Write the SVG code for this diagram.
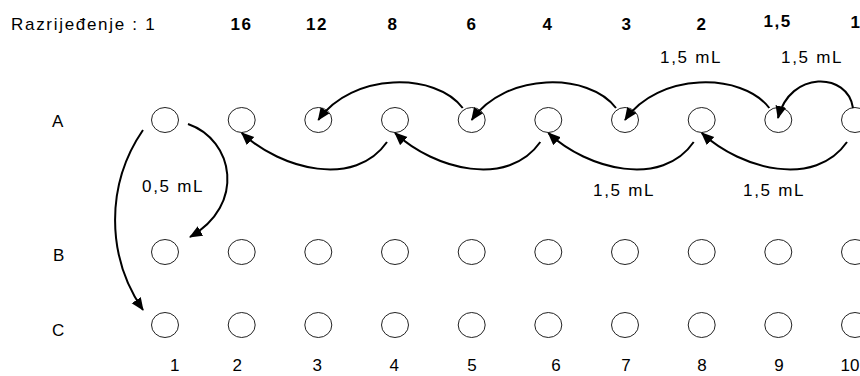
<svg xmlns="http://www.w3.org/2000/svg" width="860" height="376" viewBox="0 0 860 376">
<style>
  text { font-family: "Liberation Sans", Arial, sans-serif; font-size: 17px; fill: #000; }
  .sp { letter-spacing: 1.7px; }
  .b { font-weight: bold; letter-spacing: 1.5px; }
  .well { fill: none; stroke: #222; stroke-width: 1; }
  .arc { fill: none; stroke: #000; stroke-width: 2; marker-end: url(#ah); }
</style>
<defs>
  <marker id="ah" markerUnits="userSpaceOnUse" markerWidth="14" markerHeight="12" refX="12" refY="5.5" orient="auto">
    <path d="M0,0 L13,5.5 L0,11 z" fill="#000"/>
  </marker>
</defs>
<rect width="860" height="376" fill="#fff"/>

<g id="header">
  <text class="sp" x="11" y="30">Razrijeđenje : 1</text>
  <text class="b" x="230.5" y="30">16</text>
  <text class="b" x="306" y="30">12</text>
  <text class="b" x="387.5" y="30">8</text>
  <text class="b" x="466.5" y="30">6</text>
  <text class="b" x="542.5" y="30">4</text>
  <text class="b" x="621.5" y="30">3</text>
  <text class="b" x="696.5" y="30">2</text>
  <text class="b" x="763.5" y="27">1,5</text>
  <text x="850.5" y="28" font-weight="bold">1</text>
</g>

<g id="row-labels">
  <text x="52" y="127">A</text>
  <text x="53" y="261">B</text>
  <text x="52" y="336">C</text>
</g>

<g id="col-labels">
  <text x="170" y="371">1</text>
  <text x="232.5" y="371">2</text>
  <text x="312.5" y="371">3</text>
  <text x="389.5" y="371">4</text>
  <text x="467.3" y="371">5</text>
  <text x="551.3" y="371">6</text>
  <text x="621.3" y="371">7</text>
  <text x="697.3" y="371">8</text>
  <text x="774.3" y="371">9</text>
  <text x="840.5" y="371">10</text>
</g>

<g id="row-A">
  <g id="A1"><ellipse class="well" cx="165" cy="120" rx="13.5" ry="12.5"/></g>
  <g id="A2"><ellipse class="well" cx="241.7" cy="120" rx="13.5" ry="12.5"/></g>
  <g id="A3"><ellipse class="well" cx="318.3" cy="120" rx="13.5" ry="12.5"/></g>
  <g id="A4"><ellipse class="well" cx="395" cy="120" rx="13.5" ry="12.5"/></g>
  <g id="A5"><ellipse class="well" cx="471.7" cy="120" rx="13.5" ry="12.5"/></g>
  <g id="A6"><ellipse class="well" cx="548.3" cy="120" rx="13.5" ry="12.5"/></g>
  <g id="A7"><ellipse class="well" cx="625" cy="120" rx="13.5" ry="12.5"/></g>
  <g id="A8"><ellipse class="well" cx="701.7" cy="120" rx="13.5" ry="12.5"/></g>
  <g id="A9"><ellipse class="well" cx="778.3" cy="120" rx="13.5" ry="12.5"/></g>
  <g id="A10"><ellipse class="well" cx="855" cy="120" rx="13.5" ry="12.5"/></g>
</g>
<g id="row-B">
  <g id="B1"><ellipse class="well" cx="165" cy="252" rx="13.5" ry="12.5"/></g>
  <g id="B2"><ellipse class="well" cx="241.7" cy="252" rx="13.5" ry="12.5"/></g>
  <g id="B3"><ellipse class="well" cx="318.3" cy="252" rx="13.5" ry="12.5"/></g>
  <g id="B4"><ellipse class="well" cx="395" cy="252" rx="13.5" ry="12.5"/></g>
  <g id="B5"><ellipse class="well" cx="471.7" cy="252" rx="13.5" ry="12.5"/></g>
  <g id="B6"><ellipse class="well" cx="548.3" cy="252" rx="13.5" ry="12.5"/></g>
  <g id="B7"><ellipse class="well" cx="625" cy="252" rx="13.5" ry="12.5"/></g>
  <g id="B8"><ellipse class="well" cx="701.7" cy="252" rx="13.5" ry="12.5"/></g>
  <g id="B9"><ellipse class="well" cx="778.3" cy="252" rx="13.5" ry="12.5"/></g>
  <g id="B10"><ellipse class="well" cx="855" cy="252" rx="13.5" ry="12.5"/></g>
</g>
<g id="row-C">
  <g id="C1"><ellipse class="well" cx="165" cy="325" rx="13.5" ry="12.5"/></g>
  <g id="C2"><ellipse class="well" cx="241.7" cy="325" rx="13.5" ry="12.5"/></g>
  <g id="C3"><ellipse class="well" cx="318.3" cy="325" rx="13.5" ry="12.5"/></g>
  <g id="C4"><ellipse class="well" cx="395" cy="325" rx="13.5" ry="12.5"/></g>
  <g id="C5"><ellipse class="well" cx="471.7" cy="325" rx="13.5" ry="12.5"/></g>
  <g id="C6"><ellipse class="well" cx="548.3" cy="325" rx="13.5" ry="12.5"/></g>
  <g id="C7"><ellipse class="well" cx="625" cy="325" rx="13.5" ry="12.5"/></g>
  <g id="C8"><ellipse class="well" cx="701.7" cy="325" rx="13.5" ry="12.5"/></g>
  <g id="C9"><ellipse class="well" cx="778.3" cy="325" rx="13.5" ry="12.5"/></g>
  <g id="C10"><ellipse class="well" cx="855" cy="325" rx="13.5" ry="12.5"/></g>
</g>

<g id="connectors">
  <path class="arc" d="M188,124 C234,140 246,205 190,237"/>
  <path class="arc" d="M143,130 A159,159 0 0 0 143,310"/>
  <path class="arc" d="M853,108 C848,72 790,70 778,118"/>
  <path class="arc" d="M769.3,108 C742,72 658,72 625,120"/>
  <path class="arc" d="M616,108 C589,72 505,72 471.7,120"/>
  <path class="arc" d="M462.7,108 C436,72 352,72 318.3,120"/>
  <path class="arc" d="M847,142 C815,188 742,170 701.7,133"/>
  <path class="arc" d="M693.7,142 C662,188 588,170 548.3,133"/>
  <path class="arc" d="M540.3,142 C508,188 435,170 395,133"/>
  <path class="arc" d="M387,142 C355,188 282,170 241.7,133"/>
</g>

<g id="volume-labels">
  <text class="sp" x="142" y="192">0,5 mL</text>
  <text class="sp" x="660" y="63">1,5 mL</text>
  <text class="sp" x="781" y="63">1,5 mL</text>
  <text class="sp" x="593" y="196">1,5 mL</text>
  <text class="sp" x="743" y="196">1,5 mL</text>
</g>
</svg>
